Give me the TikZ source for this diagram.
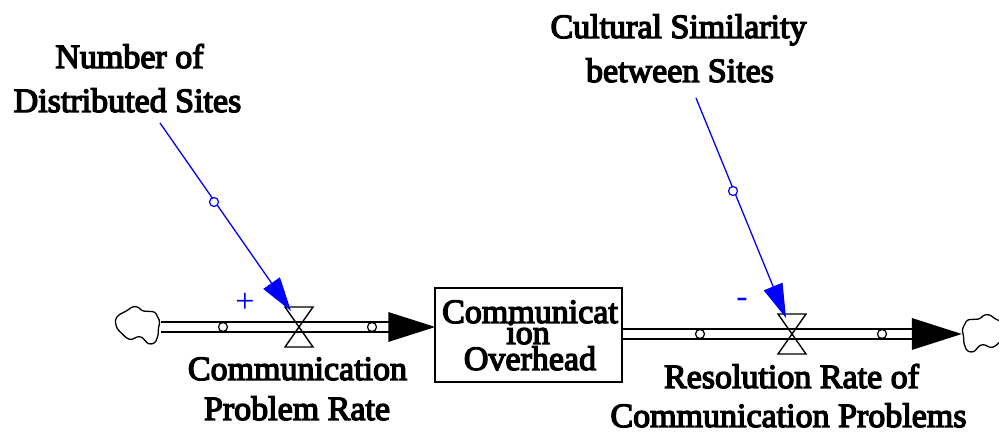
\documentclass[tikz,border=0pt]{standalone}
\usepackage{fontspec}
\setmainfont{Liberation Serif}
\newfontfamily\vfont{Liberation Serif}[FakeBold=4]
\usetikzlibrary{arrows.meta}
\definecolor{vblue}{RGB}{0,0,255}
\begin{document}
\begin{tikzpicture}[x=1pt,y=-1pt,
  lbl/.style={font=\vfont\fontsize{34}{40}\selectfont, inner sep=0pt, anchor=base},
  pipe/.style={draw=black, double=white, double distance=8.4pt, line width=1.6pt},
  cloudbox/.style={minimum width=44pt, minimum height=38pt, inner sep=0pt},
  cloudpic/.pic={\draw[line width=1.3pt, fill=white, rounded corners=2.5pt]
     (-19.7,-10) -- (-9.7,-15) -- (-6.3,-18.3) -- (0.3,-18.3) -- (3.7,-14) -- (17,-13.3)
     -- (20.3,-6.7) -- (22,-3.3) -- (20.3,3.3) -- (20.3,10) -- (17,18.3) -- (10.3,19.3)
     -- (3.7,11.7) -- (-1.3,11.7) -- (-6.3,15) -- (-11.3,13.3) -- (-18,6.7) -- (-21.3,3.3)
     -- (-23,-5) -- cycle;},
  stockbox/.style={draw=black, line width=1.5pt, fill=white, minimum width=187pt, minimum height=94pt, inner sep=0pt},
  flowpt/.style={circle, draw=black, fill=white, line width=1.2pt, minimum size=9pt, inner sep=0pt},
  inflpt/.style={circle, draw=vblue, fill=white, line width=1.2pt, minimum size=9pt, inner sep=0pt},
  infl/.style={draw=vblue, line width=1.3pt, -{Triangle[length=34pt,width=20pt]}},
  valve/.pic={\draw[line width=1.4pt, line join=miter] (-14,-20) -- (14,-20) -- (0,0) -- cycle;
              \draw[line width=1.4pt, line join=miter] (-14,20) -- (14,20) -- (0,0) -- cycle;},
  sign/.style={font=\fontsize{34}{40}\selectfont, text=vblue, inner sep=0pt}
]
\clip (0,0) rectangle (999,435);
\fill[white] (0,0) rectangle (999,435);

% clouds and stock
\node[cloudbox] (cl) at (138,325) {};
\node[cloudbox] (cr) at (984,333) {};
\pic at (cl) {cloudpic};
\pic[xscale=-1] at (cr) {cloudpic};
\node[stockbox] (st) at (528.5,335) {};
\node[lbl] (st1) at (530,323) {Communicat};
\node[lbl] (st2) at (528,344) {ion};
\node[lbl] (st3) at (530,370) {Overhead};

% valve positions
\coordinate (v1) at (299,327);
\coordinate (v2) at (792,334);

% pipes
\draw[pipe] ([xshift=1pt]cl.east |- v1) -- ([xshift=-45pt]st.west |- v1);
\draw[pipe] (st.east |- v2) -- ([xshift=-48pt]cr.west |- v2);
\fill[black] ([xshift=1pt]st.west |- v1) -- ++(-47,-15) -- ++(0,30) -- cycle;
\fill[black] (cr.west |- v2) -- ++(-50,-16) -- ++(0,32) -- cycle;

% valves and flow points
\pic at (v1) {valve};
\pic at (v2) {valve};
\node[flowpt] (p1) at (223,327) {};
\node[flowpt] (p2) at (372,327) {};
\node[flowpt] (p3) at (700,334) {};
\node[flowpt] (p4) at (882,334) {};

% flow labels
\node[lbl] (f1a) at (297.5,380) {Communication};
\node[lbl] (f1b) at (297,420) {Problem Rate};
\node[lbl] (f2a) at (791.5,388) {Resolution Rate of};
\node[lbl] (f2b) at (788.5,427) {Communication Problems};

% auxiliaries
\node[lbl] (a1a) at (129.5,68) {Number of};
\node[lbl] (a1b) at (127.5,112) {Distributed Sites};
\node[lbl] (a2a) at (678.5,38) {Cultural Similarity};
\node[lbl] (a2b) at (680,82) {between Sites};

% influence connectors
\coordinate (s1) at (160,123);
\coordinate (t1) at (291,311);
\coordinate (s2) at (696,98);
\coordinate (t2) at (786,318);
\draw[infl] (s1) -- (t1);
\draw[infl] (s2) -- (t2);
\node[inflpt] (c1) at (214,202) {};
\node[inflpt] (c2) at (733,191) {};
\node[sign] (plus) at (245,303) {+};
\node[sign] (minus) at (742,303) {-};
\end{tikzpicture}
\end{document}
